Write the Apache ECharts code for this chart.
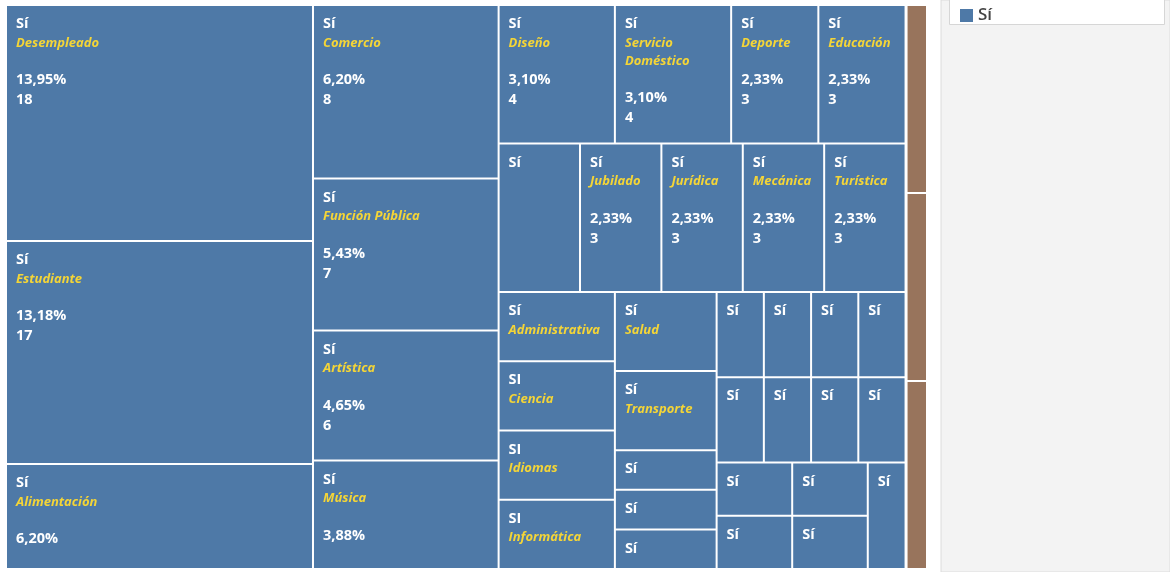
<!DOCTYPE html>
<html>
<head>
<meta charset="utf-8">
<style>
  html, body { margin: 0; padding: 0; background: #ffffff; }
  #chart { width: 1170px; height: 572px; }
</style>
<script src="https://cdn.jsdelivr.net/npm/echarts@6/dist/echarts.min.js"></script>
</head>
<body>
<div id="chart"></div>
<script>
// ---- Data ----
const groupNames = ['Sí', 'No'];
const groupColors = ['#4e79a7', '#98745c'];

// Group "Sí": occupation, answer label, count
const siOccupations = [
  'Desempleado', 'Estudiante', 'Alimentación', 'Comercio', 'Función Pública',
  'Artística', 'Música', 'Diseño', 'Servicio Doméstico', 'Deporte', 'Educación',
  '', 'Jubilado', 'Jurídica', 'Mecánica', 'Turística',
  'Administrativa', 'Ciencia', 'Idiomas', 'Informática', 'Salud', 'Transporte',
  '', '', '', '', '', '', '', '', '', '', '', '', '', '', '', ''
];
const siAnswers = [
  'Sí', 'Sí', 'Sí', 'Sí', 'Sí', 'Sí', 'Sí', 'Sí', 'Sí', 'Sí', 'Sí',
  'Sí', 'Sí', 'Sí', 'Sí', 'Sí',
  'Sí', 'SI', 'SI', 'SI', 'Sí', 'Sí',
  'Sí', 'Sí', 'Sí', 'Sí', 'Sí', 'Sí', 'Sí', 'Sí', 'Sí', 'Sí', 'Sí', 'Sí', 'Sí', 'Sí', 'Sí', 'Sí'
];
const siCounts = [
  18, 17, 8, 8, 7, 6, 5, 4, 4, 3, 3,
  3, 3, 3, 3, 3,
  2, 2, 2, 2, 2, 2,
  1, 1, 1, 1, 1, 1, 1, 1, 1, 1, 1, 1, 1, 1, 1, 1
];

// Second (brown) group
const noOccupations = ['', '', ''];
const noAnswers = ['', '', ''];
const noCounts = [1, 1, 1];

// ---- Build treemap data ----
const total = siCounts.concat(noCounts).reduce((a, b) => a + b, 0);

function leaves(occs, answers, counts, color) {
  return counts.map((v, i) => ({
    name: occs[i], value: v, occ: occs[i], ans: answers[i],
    itemStyle: { color: color }
  }));
}

const treeData = [
  { name: groupNames[0], itemStyle: { color: groupColors[0] }, children: leaves(siOccupations, siAnswers, siCounts, groupColors[0]) },
  { name: groupNames[1], itemStyle: { color: groupColors[1] }, children: leaves(noOccupations, noAnswers, noCounts, groupColors[1]) }
];

function fmtPct(v) {
  return (v / total * 100).toFixed(2).replace('.', ',') + '%';
}

const FONT = '"Open Sans", "Noto Sans", sans-serif';
const NAME_SIZE = 13;
const PAD = [8, 6, 8, 9];

const measureCtx = document.createElement('canvas').getContext('2d');
function textW(s) {
  measureCtx.font = 'italic 700 ' + NAME_SIZE + 'px ' + FONT;
  return measureCtx.measureText(s).width;
}
function wrapName(name, maxW) {
  if (!(maxW > 0) || textW(name) <= maxW) return [name];
  const words = name.split(' ');
  const lines = [];
  let cur = '';
  words.forEach(function (w) {
    const test = cur ? cur + ' ' + w : w;
    if (!cur || textW(test) <= maxW) { cur = test; }
    else { lines.push(cur); cur = w; }
  });
  if (cur) lines.push(cur);
  return lines;
}

const chart = echarts.init(document.getElementById('chart'), null, { renderer: 'canvas' });

function cellWidth(p) {
  try {
    const s = chart.getModel().getSeriesByIndex(0);
    const node = s.getData().tree.getNodeByDataIndex(p.dataIndex);
    return node.getLayout().width;
  } catch (e) {
    return Infinity;
  }
}

chart.setOption({
  animation: false,
  backgroundColor: '#ffffff',
  graphic: [
    {
      type: 'rect', z: 0, silent: true,
      shape: { x: 941, y: 0, width: 229, height: 572 },
      style: { fill: '#f3f3f3', stroke: '#dcdcdc', lineWidth: 1 }
    },
    {
      type: 'rect', z: 1, silent: true,
      shape: { x: 949.5, y: -1.5, width: 215, height: 26 },
      style: { fill: '#ffffff', stroke: '#d6d6d6', lineWidth: 1 }
    }
  ],
  legend: {
    z: 10,
    left: 955,
    top: 2,
    icon: 'rect',
    itemWidth: 13,
    itemHeight: 13,
    itemGap: 6,
    selectedMode: false,
    textStyle: { color: '#444444', fontSize: 17, fontFamily: FONT, fontWeight: 600 },
    data: [{ name: 'Sí', itemStyle: { color: groupColors[0] } }]
  },
  series: [{
    type: 'treemap',
    name: 'Sí',
    left: 7,
    top: 6,
    width: 919,
    height: 562,
    roam: false,
    nodeClick: false,
    sort: false,
    squareRatio: 0.5 * (1 + Math.sqrt(5)),
    visibleMin: 0,
    breadcrumb: { show: false },
    itemStyle: { borderColor: '#ffffff', borderWidth: 0, gapWidth: 2 },
    levels: [
      { itemStyle: { borderWidth: 0, gapWidth: 3, borderColor: '#ffffff' } },
      { itemStyle: { borderWidth: 0, gapWidth: 2, borderColor: '#ffffff' } },
      { itemStyle: { borderWidth: 0, borderColor: '#ffffff' } }
    ],
    upperLabel: { show: false },
    label: {
      show: true,
      position: 'insideTopLeft',
      padding: PAD,
      overflow: 'truncate',
      fontFamily: FONT,
      formatter: function (p) {
        const d = p.data;
        if (!d || !d.ans) return '';
        if (!d.occ) return '{a|' + d.ans + '}';
        const maxW = cellWidth(p) - PAD[1] - PAD[3] - 2;
        const nameLines = wrapName(d.occ, maxW).map(function (l) { return '{b|' + l + '}'; });
        return ['{a|' + d.ans + '}'].concat(nameLines, ['{s| }', '{a|' + fmtPct(d.value) + '}', '{a|' + d.value + '}']).join('\n');
      },
      rich: {
        a: { color: '#ffffff', fontSize: 14.5, fontWeight: 700, fontFamily: FONT, lineHeight: 20 },
        b: { color: '#f4d537', fontSize: NAME_SIZE, fontWeight: 700, fontStyle: 'italic', fontFamily: FONT, lineHeight: 18 },
        s: { fontSize: 10, lineHeight: 18 }
      }
    },
    emphasis: { disabled: true },
    data: treeData
  }]
});
</script>
</body>
</html>
